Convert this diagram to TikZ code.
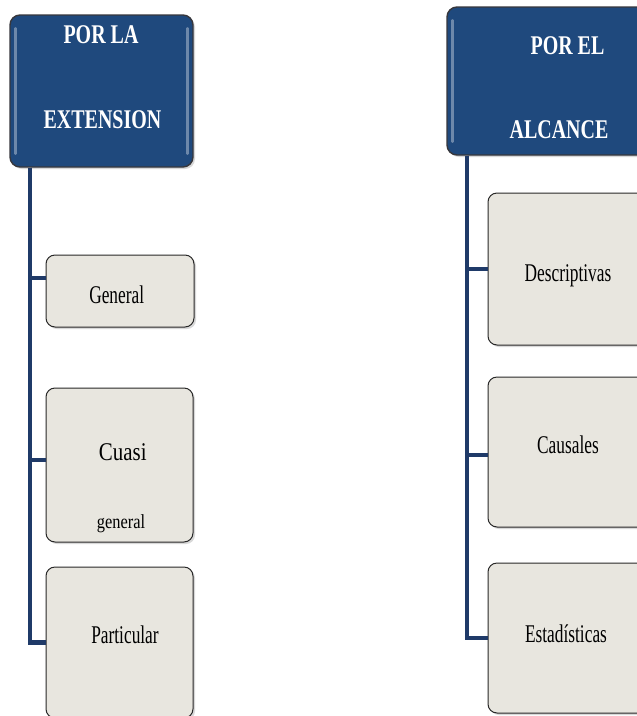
\documentclass[tikz,border=0pt]{standalone}
\usepackage{fontspec}
\setmainfont{Liberation Serif}
\newfontfamily\hfont{Liberation Serif}[FakeStretch=0.74]
\newfontfamily\nfont{Liberation Serif}[FakeStretch=0.68]
\newfontfamily\qfont{Liberation Serif}[FakeStretch=0.82]
\usetikzlibrary{shadows}
\definecolor{hdrblue}{RGB}{31,73,125}
\definecolor{hdrborder}{RGB}{55,55,60}
\definecolor{linenavy}{RGB}{31,58,104}
\definecolor{boxfill}{RGB}{232,230,223}
\definecolor{boxborder}{RGB}{40,40,40}
\tikzset{
  hdrbox/.style={draw=hdrborder, line width=1.4pt, fill=hdrblue, rounded corners=10pt,
    drop shadow={shadow xshift=2pt, shadow yshift=-2pt, opacity=0.3}, inner sep=0pt},
  itembox/.style={draw=boxborder, line width=1pt, fill=boxfill, rounded corners=9pt,
    drop shadow={shadow xshift=2pt, shadow yshift=-2pt, opacity=0.3}, inner sep=0pt},
  gloss/.style={draw=white, opacity=0.35, line width=2.5pt, line cap=round},
  hdrtext/.style={anchor=base, inner sep=0pt, text=white, font=\hfont\bfseries\fontsize{27}{30}\selectfont},
  itemtext/.style={anchor=base, inner sep=0pt, text=black, font=\nfont\fontsize{25.5}{28}\selectfont},
  conn/.style={draw=linenavy, line width=4.2pt}
}
\begin{document}
\begin{tikzpicture}[x=1pt,y=-1pt]
\useasboundingbox (0,0) rectangle (637,716);
\clip (0,0) rectangle (637,716);
\fill[white] (0,0) rectangle (637,716);

% headers
\node[hdrbox, minimum width=183pt, minimum height=152pt] (hL) at (101.5,91) {};
\node[hdrbox, minimum width=233pt, minimum height=148pt] (hR) at (563.5,81) {};
\draw[gloss] ([xshift=6pt,yshift=-14pt]hL.north west) -- ([xshift=6pt,yshift=14pt]hL.south west);
\draw[gloss] ([xshift=-6pt,yshift=-14pt]hL.north east) -- ([xshift=-6pt,yshift=14pt]hL.south east);
\draw[gloss] ([xshift=6pt,yshift=-14pt]hR.north west) -- ([xshift=6pt,yshift=14pt]hR.south west);

% items left
\node[itembox, minimum width=148pt, minimum height=72pt] (gen) at (120,291) {};
\node[itembox, minimum width=147pt, minimum height=154pt] (cua) at (119.5,465) {};
\node[itembox, minimum width=147pt, minimum height=151pt] (par) at (119.5,642.5) {};

% items right
\node[itembox, minimum width=160pt, minimum height=152pt] (des) at (568,269) {};
\node[itembox, minimum width=160pt, minimum height=150pt] (cau) at (568,452) {};
\node[itembox, minimum width=160pt, minimum height=150pt] (est) at (568,638) {};

% connectors
\coordinate (tL) at ([xshift=21pt]hL.south west);
\coordinate (tR) at ([xshift=21pt]hR.south west);
\draw[conn] (tL) |- ([yshift=13pt]gen.west);
\draw[conn] (tL) |- ([yshift=5pt]cua.west);
\draw[conn] (tL) |- (par.west);
\draw[conn] (tR) |- (des.west);
\draw[conn] (tR) |- ([yshift=-3pt]cau.west);
\draw[conn] (tR) |- (est.west);

% texts
\node[hdrtext] (hL1) at (101,43) {POR LA};
\node[hdrtext] (hL2) at (102.5,128) {EXTENSION};
\node[hdrtext] (hR1) at (567.5,54) {POR EL};
\node[hdrtext] (hR2) at (559,138) {ALCANCE};

\node[itemtext] (genT) at (116.7,303) {General};
\node[itemtext, font=\qfont\fontsize{25.5}{28}\selectfont] (cuaT1) at (122.8,460) {Cuasi};
\node[itemtext, font=\qfont\fontsize{20}{24}\selectfont] (cuaT2) at (121,528) {general};
\node[itemtext] (parT) at (125,643) {Particular};
\node[itemtext] (desT) at (568,281) {Descriptivas};
\node[itemtext] (cauT) at (568,453) {Causales};
\node[itemtext] (estT) at (566,642) {Estadísticas};
\end{tikzpicture}
\end{document}
